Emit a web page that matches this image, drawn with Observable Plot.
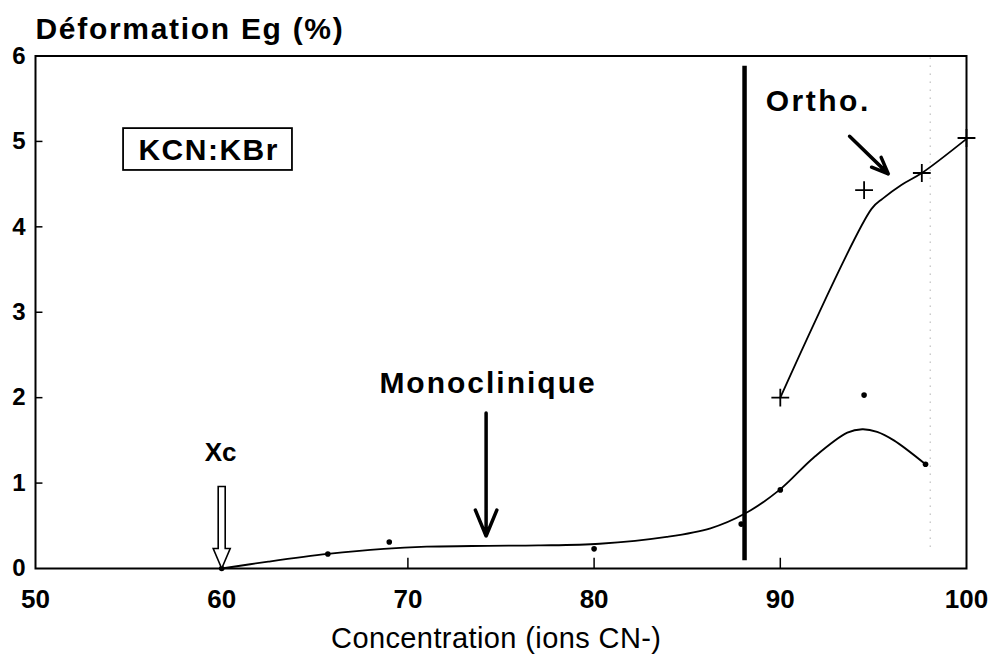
<!DOCTYPE html>
<html>
<head>
<meta charset="utf-8">
<script src="https://cdn.jsdelivr.net/npm/d3@7"></script>
<script src="https://cdn.jsdelivr.net/npm/@observablehq/plot@0.6"></script>
<style>
  html, body { margin: 0; padding: 0; background: #fff; }
  #chart svg { display: block; }
</style>
</head>
<body>
<div id="chart"></div>
<script>
// ---- data ----
const xTicks = [50, 60, 70, 80, 90, 100];
const xInnerTicks = [60, 70, 80, 90];
const yTicks = [0, 1, 2, 3, 4, 5, 6];
const yInnerTicks = [1, 2, 3, 4, 5];

// measured points (small dots, monoclinic phase)
const monoX = [60, 65.7, 69, 80, 87.9, 90, 94.5, 97.8];
const monoY = [0, 0.17, 0.31, 0.23, 0.52, 0.92, 2.03, 1.22];

// measured points (crosses, orthorhombic phase)
const orthoX = [90, 94.5, 97.6, 100];
const orthoY = [2.0, 4.43, 4.63, 5.04];

// fitted lower curve (as drawn)
const fitLowX = [60, 62.5, 65.7, 68.7, 71, 74.3, 77, 80.3, 83.9, 86.25, 88.08, 89.96, 91.8, 93.6, 94.4, 95.2, 96.1, 97.8];
const fitLowY = [0, 0.08, 0.17, 0.23, 0.255, 0.265, 0.27, 0.29, 0.37, 0.47, 0.64, 0.92, 1.30, 1.59, 1.63, 1.60, 1.50, 1.22];

// fitted upper curve (as drawn)
const fitHighX = [90, 94.9, 95.5, 96.5, 97.6, 100];
const fitHighY = [2.0, 4.21, 4.33, 4.49, 4.63, 5.03];

// phase boundary and dotted guide
const boundaryX = [88.08];
const boundaryY = [0.09, 5.88];
const guideX = [98.05];

// annotations
const labels = [
  {x: 74.25, y: 2.17, text: "Monoclinique", size: 30, spacing: 2},
  {x: 59.94, y: 1.36, text: "Xc", size: 26, spacing: 0},
  {x: 91.97, y: 5.47, text: "Ortho.", size: 30, spacing: 2.5}
];
const boxLabel = {x: 59.26, y: 4.89, text: "KCN:KBr", x1: 54.73, x2: 63.8, y1: 4.66, y2: 5.15};
const arrows = [
  {x1: 74.2, y1: 1.82, x2: 74.2, y2: 0.38},
  {x1: 93.72, y1: 5.06, x2: 95.8, y2: 4.62}
];
const xcArrow = [{x: 60, y: 0}];

const title = "Déformation Eg (%)";
const xLabel = "Concentration (ions CN-)";

// ---- build ----
const zip = (xs, ys) => xs.map((x, i) => ({x, y: ys[i]}));
const mono = zip(monoX, monoY);
const ortho = zip(orthoX, orthoY);
const fitLow = zip(fitLowX, fitLowY);
const fitHigh = zip(fitHighX, fitHighY);

const hollowArrow = {
  draw(ctx) {
    ctx.moveTo(0, 0);
    ctx.lineTo(-8.5, -20);
    ctx.lineTo(-3.5, -20);
    ctx.lineTo(-3.5, -82);
    ctx.lineTo(3.5, -82);
    ctx.lineTo(3.5, -20);
    ctx.lineTo(8.5, -20);
    ctx.closePath();
  }
};

const font = "'Liberation Sans', Arial, Helvetica, sans-serif";

const chart = Plot.plot({
  width: 992,
  height: 655,
  marginTop: 55.5,
  marginLeft: 35,
  marginRight: 26,
  marginBottom: 87,
  style: {fontFamily: font, background: "#fff", color: "#000"},
  x: {domain: [50, 100], axis: null},
  y: {domain: [0, 6], axis: null},
  marks: [
    // dotted guide
    Plot.ruleX(guideX, {x: d => d, y1: 0.25, y2: 6, stroke: "#888", strokeWidth: 1, strokeDasharray: "1,7"}),
    // inner ticks
    Plot.ruleX(xInnerTicks, {x: d => d, y1: 0, y2: 0.12, stroke: "#000", strokeWidth: 1.5}),
    Plot.ruleY(yInnerTicks, {y: d => d, x1: 50, x2: 50.4, stroke: "#000", strokeWidth: 1.5}),
    // tick labels
    Plot.text(xTicks, {x: d => d, text: d => String(d), frameAnchor: "bottom", dy: 31.5, lineAnchor: "middle", fontSize: 26, fontWeight: "bold"}),
    Plot.text(yTicks, {y: d => d, text: d => String(d), frameAnchor: "left", dx: -16.5, textAnchor: "middle", lineAnchor: "middle", fontSize: 24, fontWeight: "bold"}),
    // axis titles
    Plot.text([title], {text: d => d, frameAnchor: "top-left", textAnchor: "start", lineAnchor: "middle", dy: -26.5, fontSize: 30, fontWeight: "bold"}),
    Plot.text([xLabel], {text: d => d, frameAnchor: "bottom", textAnchor: "middle", lineAnchor: "middle", dx: -5, dy: 70, fontSize: 29}),
    // fitted curves
    Plot.line(fitLow, {x: "x", y: "y", curve: "catmull-rom", stroke: "#000", strokeWidth: 1.8}),
    Plot.line(fitHigh, {x: "x", y: "y", curve: "catmull-rom", stroke: "#000", strokeWidth: 1.8}),
    // phase boundary
    Plot.ruleX(boundaryX, {x: d => d, y1: boundaryY[0], y2: boundaryY[1], stroke: "#000", strokeWidth: 4.5}),
    // measured points
    Plot.dot(mono, {x: "x", y: "y", r: 2.8, fill: "#000", stroke: "none"}),
    Plot.dot(ortho, {x: "x", y: "y", r: 5.8, symbol: "plus", stroke: "#000", strokeWidth: 1.8}),
    // annotations
    Plot.rect([boxLabel], {x1: "x1", x2: "x2", y1: "y1", y2: "y2", fill: "#fff", stroke: "#000", strokeWidth: 1.8}),
    Plot.text([boxLabel], {x: "x", y: "y", text: "text", lineAnchor: "middle", fontSize: 30, fontWeight: "bold"}),
    Plot.text(labels, {x: "x", y: "y", text: "text", lineAnchor: "middle", fontSize: "size", fontWeight: "bold"}),
    Plot.arrow(arrows, {x1: "x1", y1: "y1", x2: "x2", y2: "y2", stroke: "#000", strokeWidth: 3.5, headLength: 12, headAngle: 45}),
    Plot.dot(xcArrow, {x: "x", y: "y", symbol: hollowArrow, fill: "#fff", stroke: "#000", strokeWidth: 1.6}),
    // frame
    Plot.frame({stroke: "#000", strokeWidth: 2})
  ]
});

// letter spacing to match the wider typeface of the reference
const spacing = new Map([
  [title, 1.7], [xLabel, 0.4], [boxLabel.text, 1.5],
  ...labels.map(d => [d.text, d.spacing])
]);
d3.select(chart).selectAll("text").each(function() {
  const s = spacing.get(this.textContent);
  if (s) {
    this.style.letterSpacing = s + "px";
    const anchor = this.getAttribute("text-anchor") || (this.parentNode && this.parentNode.getAttribute("text-anchor"));
    if (anchor === "middle" || anchor === null) {
      // compensate trailing spacing so the text stays centred
      const dx = parseFloat(this.getAttribute("dx") || 0);
      this.setAttribute("dx", dx + s / 2);
    }
  }
});
document.getElementById("chart").appendChild(chart);
</script>
</body>
</html>
